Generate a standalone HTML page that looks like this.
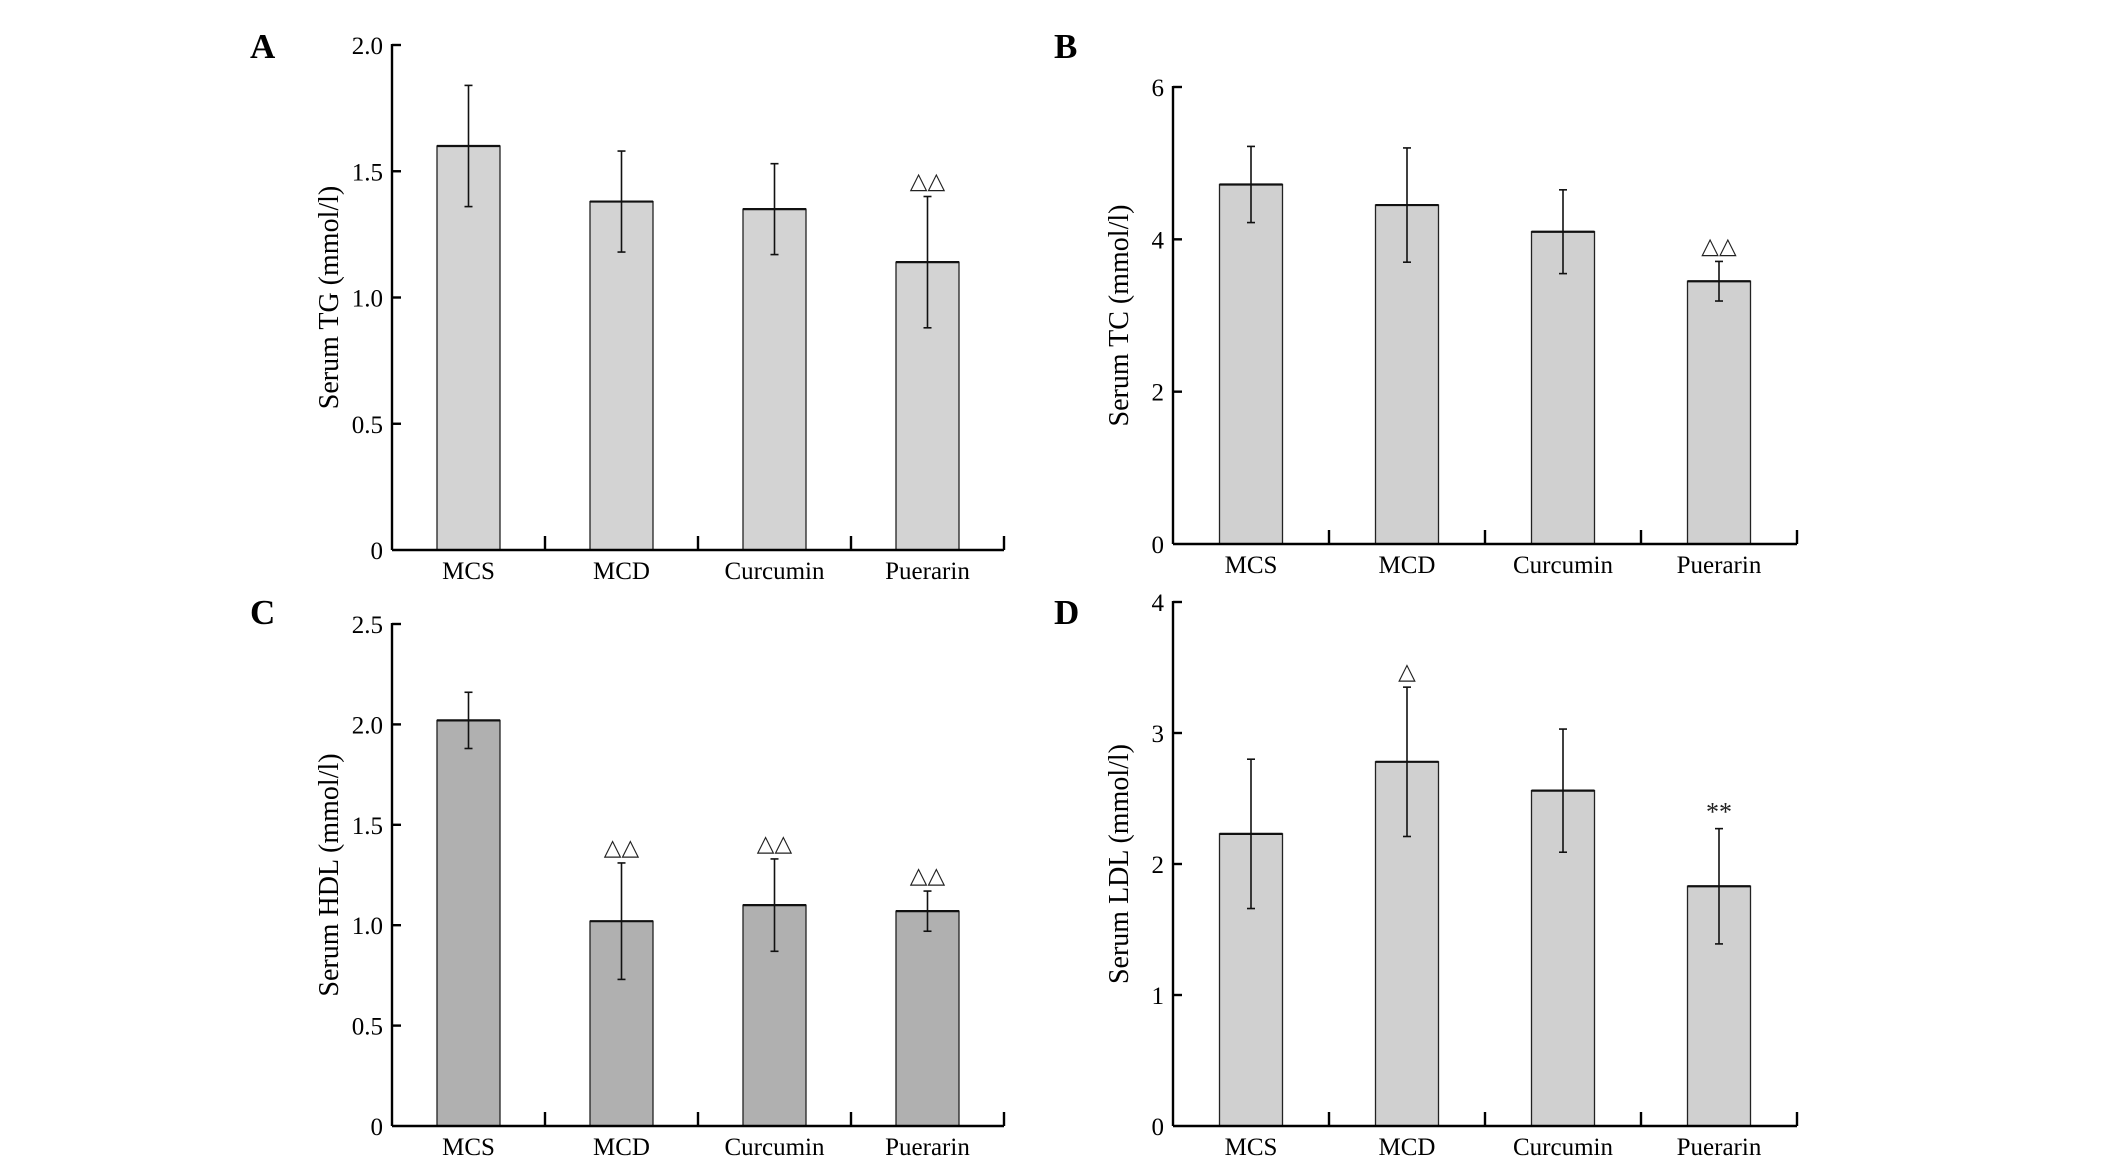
<!DOCTYPE html>
<html><head><meta charset="utf-8"><style>
html,body{margin:0;padding:0;background:#fff;}
svg{display:block;font-family:"Liberation Serif","DejaVu Serif",serif;}
</style></head><body>
<svg id="fig" width="2126" height="1165" viewBox="0 0 2126 1165" xmlns="http://www.w3.org/2000/svg"></svg>
<script>
const categories = ["MCS","MCD","Curcumin","Puerarin"];
const tgValues = [1.60,1.38,1.35,1.14];
const tgErrors = [0.24,0.20,0.18,0.26];
const tgTicks = ["0","0.5","1.0","1.5","2.0"];
const tcValues = [4.72,4.45,4.10,3.45];
const tcErrors = [0.50,0.75,0.55,0.26];
const tcTicks = ["0","2","4","6"];
const hdlValues = [2.02,1.02,1.10,1.07];
const hdlErrors = [0.14,0.29,0.23,0.10];
const hdlTicks = ["0","0.5","1.0","1.5","2.0","2.5"];
const ldlValues = [2.23,2.78,2.56,1.83];
const ldlErrors = [0.57,0.57,0.47,0.44];
const ldlTicks = ["0","1","2","3","4"];
const tgMarks = ["","","","△△"];
const tcMarks = ["","","","△△"];
const hdlMarks = ["","△△","△△","△△"];
const ldlMarks = ["","△","","**"];

const NS="http://www.w3.org/2000/svg";
const svg=document.getElementById('fig');
function mk(tag,attrs,parent){const e=document.createElementNS(NS,tag);for(const k in attrs)e.setAttribute(k,attrs[k]);(parent||svg).appendChild(e);return e;}

function panel(opt){
  const g=mk('g',{});
  
  
  const {x0,x1,y0,y1,max}=opt;
  const ys=v=>y0-(v/max)*(y0-y1);
  const step=(x1-x0)/categories.length;
  const xs=i=>x0+step*(i+0.5);
  const bw=63;
  const L=mk('text',{x:opt.lx,y:opt.ly,'font-size':35,'font-weight':'bold',fill:'#000'},g);
  L.textContent=opt.id.toUpperCase();
  
  
  opt.values.forEach((v,i)=>{
    const r=mk('rect',{x:xs(i)-bw/2,y:ys(v),width:bw,height:y0-ys(v),fill:opt.fill,stroke:'#222','stroke-width':1.3},g);
    
    
    mk('line',{x1:xs(i)-bw/2,x2:xs(i)+bw/2,y1:ys(v),y2:ys(v),stroke:'#111','stroke-width':2.2},g);
    const e=opt.errors[i];
    const eg=mk('g',{stroke:'#111','stroke-width':1.6},g);
    
    
    mk('line',{x1:xs(i),x2:xs(i),y1:ys(v+e),y2:ys(v-e)},eg);
    mk('line',{x1:xs(i)-4,x2:xs(i)+4,y1:ys(v+e),y2:ys(v+e)},eg);
    mk('line',{x1:xs(i)-4,x2:xs(i)+4,y1:ys(v-e),y2:ys(v-e)},eg);
    if(opt.marks[i]){
      const m=mk('text',{x:xs(i),y:ys(v+e)-8,'font-size':opt.marks[i]=='**'?26:23,'text-anchor':'middle',fill:'#222'},g);
      m.textContent=opt.marks[i];
      
      
    }
  });
  const ax=mk('g',{stroke:'#000','stroke-width':2.4,fill:'none'},g);
  
  
  mk('line',{x1:x0,x2:x0,y1:y1-1,y2:y0},ax);
  mk('line',{x1:x0,x2:x1,y1:y0,y2:y0},ax);
  for(let i=1;i<=categories.length;i++){mk('line',{x1:x0+step*i,x2:x0+step*i,y1:y0,y2:y0-14},ax);}
  const nt=opt.ticks.length-1;
  opt.ticks.forEach((lab,i)=>{
    const v=max*i/nt, y=ys(v);
    if(i>0) mk('line',{x1:x0,x2:x0+9,y1:y,y2:y},ax);
    const t=mk('text',{x:x0-9,y:y+9,'font-size':25,'text-anchor':'end',fill:'#000'},g);
    t.textContent=lab;
    
    
  });
  categories.forEach((c,i)=>{
    const t=mk('text',{x:xs(i),y:y0+29,'font-size':25,'text-anchor':'middle',fill:'#000'},g);
    t.textContent=c;
    
    
  });
  const cy=(y0+y1)/2;
  const yt=mk('text',{x:opt.tx,y:cy,'font-size':28,'text-anchor':'middle',fill:'#000',transform:`rotate(-90 ${opt.tx} ${cy})`},g);
  yt.textContent=opt.title;
  
  
}

panel({id:'a',x0:392,x1:1004,y0:550,y1:45,max:2.0,values:tgValues,errors:tgErrors,ticks:tgTicks,marks:tgMarks,fill:'#d3d3d3',title:'Serum TG (mmol/l)',tx:338,lx:250,ly:58});
panel({id:'b',x0:1173,x1:1797,y0:544,y1:87,max:6,values:tcValues,errors:tcErrors,ticks:tcTicks,marks:tcMarks,fill:'#d0d0d0',title:'Serum TC (mmol/l)',tx:1128,lx:1054,ly:58});
panel({id:'c',x0:392,x1:1004,y0:1126,y1:624,max:2.5,values:hdlValues,errors:hdlErrors,ticks:hdlTicks,marks:hdlMarks,fill:'#b0b0b0',title:'Serum HDL (mmol/l)',tx:338,lx:250,ly:624});
panel({id:'d',x0:1173,x1:1797,y0:1126,y1:602,max:4,values:ldlValues,errors:ldlErrors,ticks:ldlTicks,marks:ldlMarks,fill:'#d0d0d0',title:'Serum LDL (mmol/l)',tx:1128,lx:1054,ly:624});
</script>
</body></html>
